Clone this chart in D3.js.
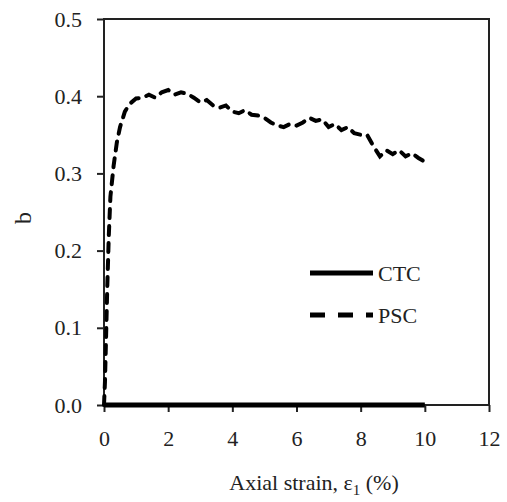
<!DOCTYPE html>
<html lang="en">
<head>
  <meta charset="UTF-8">
  <title>b vs axial strain</title>
  <script src="https://cdn.jsdelivr.net/npm/d3@7"></script>
  <style>
    body { margin: 0; background: #fff; }
    text { font-family: "Liberation Serif", "Times New Roman", serif; fill: #222; }
  </style>
</head>
<body>
<div id="chart"></div>
<script>
  // PSC curve
  var pscStrain = [0, 0.03, 0.06, 0.1, 0.15, 0.2, 0.3, 0.4, 0.5, 0.65, 0.8, 1.0, 1.2, 1.4, 1.6, 1.8,
    2.0, 2.2, 2.4, 2.6, 2.8, 3.0, 3.2, 3.4, 3.6, 3.8, 4.0, 4.2, 4.4, 4.6, 4.8, 5.0, 5.2, 5.4, 5.6, 5.8,
    6.0, 6.2, 6.4, 6.6, 6.8, 7.0, 7.2, 7.4, 7.6, 7.8, 8.0, 8.2, 8.4, 8.6, 8.8, 9.0, 9.2, 9.4, 9.6, 9.8, 10.0];
  var pscB = [0, 0.03, 0.08, 0.15, 0.22, 0.27, 0.31, 0.34, 0.36, 0.38, 0.39, 0.397, 0.398, 0.402, 0.398, 0.405,
    0.408, 0.402, 0.405, 0.403, 0.398, 0.392, 0.395, 0.388, 0.385, 0.388, 0.38, 0.378, 0.382, 0.376, 0.375, 0.372, 0.366, 0.362, 0.36, 0.364,
    0.362, 0.366, 0.372, 0.368, 0.37, 0.36, 0.364, 0.356, 0.36, 0.352, 0.35, 0.35, 0.335, 0.322, 0.33, 0.325, 0.33, 0.322, 0.326, 0.32, 0.315];
  // CTC: b stays at zero
  var ctcStrain = [0, 10];
  var ctcB = [0, 0];

  var xTicks = [0, 2, 4, 6, 8, 10, 12];
  var yTicks = [0, 0.1, 0.2, 0.3, 0.4, 0.5];
  var legendNames = ["CTC", "PSC"];

  var margin = { top: 19, right: 18, bottom: 97, left: 104 },
    width = 489 - 104,
    height = 405 - 19;

  var svg = d3.select("#chart")
    .append("svg")
    .attr("width", 507)
    .attr("height", 502)
    .append("g")
    .attr("transform", "translate(" + margin.left + "," + margin.top + ")");

  var x = d3.scaleLinear().domain([0, 12]).range([0, width]);
  var y = d3.scaleLinear().domain([0, 0.5]).range([height, 0]);

  // frame
  svg.append("rect")
    .attr("width", width)
    .attr("height", height)
    .attr("fill", "none")
    .attr("stroke", "#222")
    .attr("stroke-width", 2);

  // axes
  var xAxis = svg.append("g")
    .attr("transform", "translate(0," + height + ")")
    .call(d3.axisBottom(x).tickValues(xTicks).tickSize(7).tickPadding(18).tickFormat(d3.format("d")));
  var yAxis = svg.append("g")
    .call(d3.axisLeft(y).tickValues(yTicks).tickSize(7).tickPadding(15).tickFormat(d3.format(".1f")));

  [xAxis, yAxis].forEach(function(a) {
    a.select(".domain").remove();
    a.selectAll("line").attr("stroke", "#222").attr("stroke-width", 2);
    a.selectAll("text").attr("font-size", 22).attr("font-family", "Liberation Serif, serif").attr("fill", "#222");
  });

  var line = d3.line()
    .x(function(d) { return x(d[0]); })
    .y(function(d) { return y(d[1]); });

  // CTC solid
  svg.append("path")
    .datum(d3.zip(ctcStrain, ctcB))
    .attr("fill", "none")
    .attr("stroke", "#000")
    .attr("stroke-width", 5)
    .attr("d", line);

  // PSC dashed
  svg.append("path")
    .datum(d3.zip(pscStrain, pscB))
    .attr("fill", "none")
    .attr("stroke", "#000")
    .attr("stroke-width", 4)
    .attr("stroke-linecap", "round")
    .attr("stroke-dasharray", "9,8")
    .attr("d", line);

  // legend
  var legend = svg.selectAll(".legend")
    .data(legendNames)
    .enter().append("g")
    .attr("class", "legend")
    .attr("transform", function(d, i) { return "translate(" + (310 - margin.left) + "," + (273 - margin.top + i * 42) + ")"; });

  legend.append("line")
    .attr("x1", 0)
    .attr("x2", 63)
    .attr("stroke", "#000")
    .attr("stroke-width", 5)
    .attr("stroke-dasharray", function(d, i) { return i === 1 ? "15,13" : null; });

  legend.append("text")
    .attr("x", 68)
    .attr("dy", "0.35em")
    .attr("font-size", 22)
    .text(function(d) { return d; });

  // axis titles
  var xl = svg.append("text")
    .attr("x", 314 - margin.left)
    .attr("y", 490 - margin.top)
    .attr("text-anchor", "middle")
    .attr("font-size", 22);
  xl.append("tspan").text("Axial strain, ε");
  xl.append("tspan").attr("font-size", 15).attr("dy", 5).text("1");
  xl.append("tspan").attr("dy", -5).text(" (%)");

  svg.append("text")
    .attr("transform", "translate(" + (31 - margin.left) + "," + (218 - margin.top) + ") rotate(-90)")
    .attr("text-anchor", "middle")
    .attr("font-size", 24)
    .text("b");
</script>
</body>
</html>
